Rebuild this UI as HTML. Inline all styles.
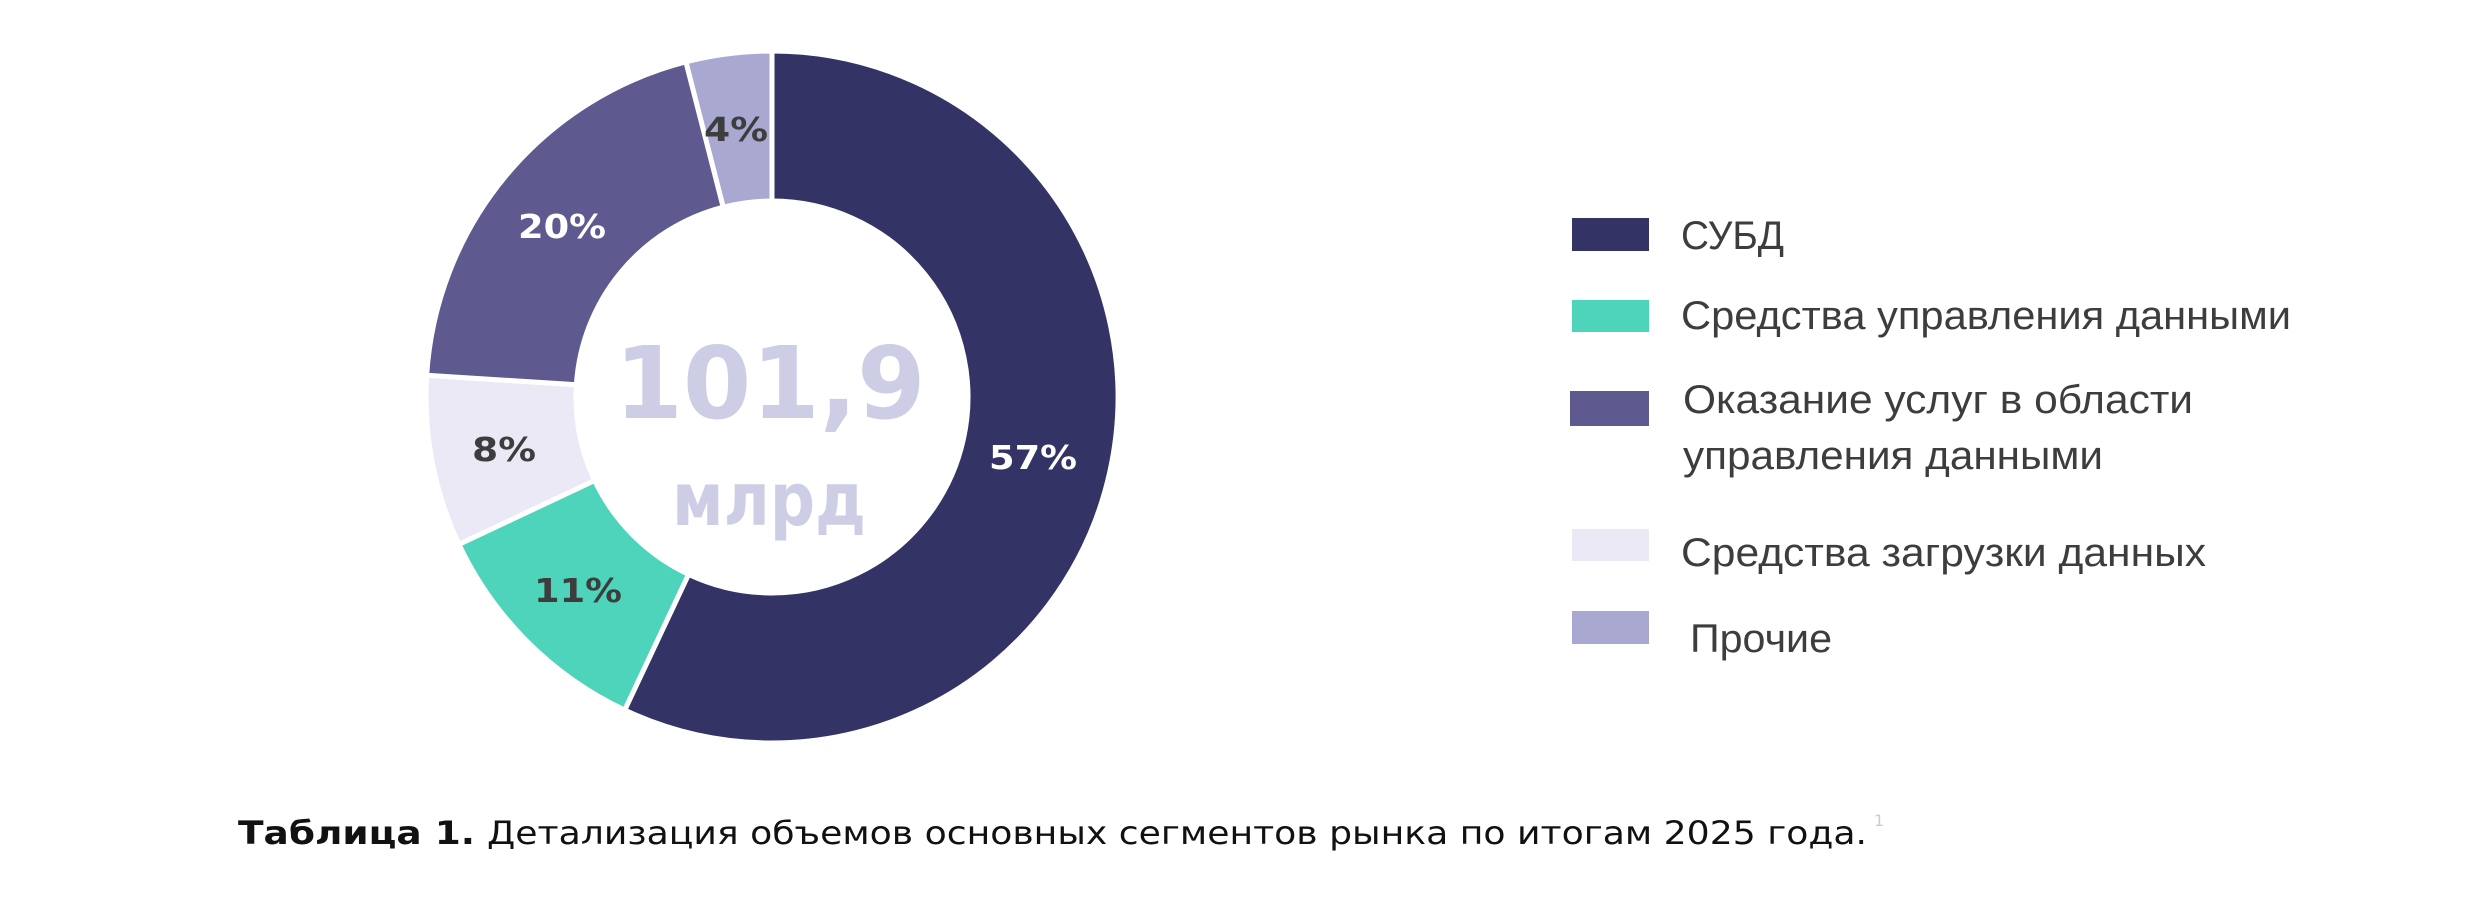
<!DOCTYPE html>
<html><head><meta charset="utf-8"><style>
html,body{margin:0;padding:0;background:#fff;}
svg{display:block;}
</style></head><body>
<svg width="2480" height="906" viewBox="0 0 2480 906" xmlns="http://www.w3.org/2000/svg">
<rect width="2480" height="906" fill="#fff"/>
<g id="donut"></g>
<script>
(function(){
var cx=772,cy=397,R=346,r=196;
var segs=[[57,"#333366"],[11,"#4dd4ba"],[8,"#ebe9f5"],[20,"#5e5a8f"],[4,"#a8a8d0"]];
var g=document.getElementById("donut"),a=0,ns="http://www.w3.org/2000/svg";
function pt(rad,ang){var t=(ang-90)*Math.PI/180;return [cx+rad*Math.cos(t),cy+rad*Math.sin(t)];}
segs.forEach(function(s){
 var a0=a,a1=a+s[0]*3.6;a=a1;
 var p1=pt(R,a0),p2=pt(R,a1),p3=pt(r,a1),p4=pt(r,a0),lg=(a1-a0)>180?1:0;
 var d="M"+p1+" A"+R+" "+R+" 0 "+lg+" 1 "+p2+" L"+p3+" A"+r+" "+r+" 0 "+lg+" 0 "+p4+"Z";
 var p=document.createElementNS(ns,"path");p.setAttribute("d",d);p.setAttribute("fill",s[1]);
 p.setAttribute("stroke","#fff");p.setAttribute("stroke-width","5");p.setAttribute("stroke-linejoin","miter");g.appendChild(p);
});
})();
</script>
<g font-family="DejaVu Sans, sans-serif" font-weight="bold" font-size="33" text-anchor="middle">
<text x="1033" y="469" fill="#fff" textLength="88" lengthAdjust="spacingAndGlyphs">57%</text>
<text x="562" y="238" fill="#fff" textLength="88" lengthAdjust="spacingAndGlyphs">20%</text>
<text x="736" y="141" fill="#3d3d3d" textLength="64" lengthAdjust="spacingAndGlyphs">4%</text>
<text x="504" y="461" fill="#3d3d3d" textLength="64" lengthAdjust="spacingAndGlyphs">8%</text>
<text x="578" y="602" fill="#3d3d3d" textLength="88" lengthAdjust="spacingAndGlyphs">11%</text>
<text x="770" y="418" fill="#cdcde6" font-size="100" textLength="311" lengthAdjust="spacingAndGlyphs">101,9</text>
<text x="769" y="525" fill="#cdcde6" font-size="74" textLength="194" lengthAdjust="spacingAndGlyphs">млрд</text>
</g>
<rect x="1572" y="218" width="77" height="33" fill="#333366"/>
<rect x="1572" y="300" width="77" height="32" fill="#4dd4ba"/>
<rect x="1570" y="391" width="79" height="35" fill="#5e5a8f"/>
<rect x="1572" y="529" width="77" height="32" fill="#ebe9f5"/>
<rect x="1572" y="611" width="77" height="33" fill="#a8a8d0"/>
<g font-family="Liberation Sans, sans-serif" font-size="40" fill="#3d3d3d">
<text x="1681" y="249" textLength="103" lengthAdjust="spacingAndGlyphs">СУБД</text>
<text x="1681" y="329" textLength="610" lengthAdjust="spacingAndGlyphs">Средства управления данными</text>
<text x="1683" y="413" textLength="510" lengthAdjust="spacingAndGlyphs">Оказание услуг в области</text>
<text x="1683" y="469" textLength="420" lengthAdjust="spacingAndGlyphs">управления данными</text>
<text x="1681" y="566" textLength="525" lengthAdjust="spacingAndGlyphs">Средства загрузки данных</text>
<text x="1690" y="652" textLength="142" lengthAdjust="spacingAndGlyphs">Прочие</text>
</g>
<g font-family="DejaVu Sans, sans-serif" font-size="32" fill="#111">
<text x="238" y="844" font-weight="bold" textLength="237" lengthAdjust="spacingAndGlyphs">Таблица 1.</text>
<text x="487" y="844" textLength="1380" lengthAdjust="spacingAndGlyphs">Детализация объемов основных сегментов рынка по итогам 2025 года.</text>
<text x="1874" y="826" font-size="16" fill="#ccc">1</text>
</g>
</svg>
</body></html>
